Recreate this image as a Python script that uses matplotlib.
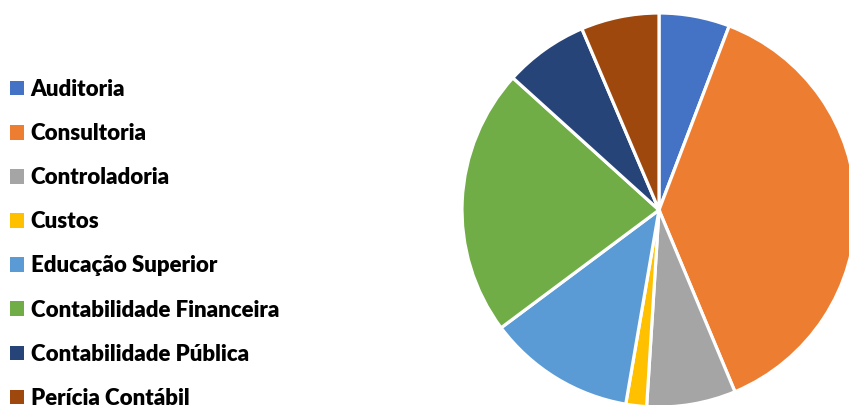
import matplotlib
matplotlib.use("Agg")
import matplotlib.pyplot as plt
from matplotlib.patches import Patch

# share of each area (percent)
areas = ["Auditoria", "Consultoria", "Controladoria", "Custos",
         "Educação Superior", "Contabilidade Financeira",
         "Contabilidade Pública", "Perícia Contábil"]
shares = [5.8, 37.9, 7.3, 1.7, 12.1, 21.9, 6.9, 6.4]
colors = ["#4472C4", "#ED7D31", "#A5A5A5", "#FFC000",
          "#5B9BD5", "#70AD47", "#264478", "#9E480E"]

fig = plt.figure(figsize=(8.49, 4.05), dpi=100)
W, H = 849, 405
cx, cy, r = 659, 210, 197
ax = fig.add_axes([(cx - r) / W, (H - cy - r) / H, 2 * r / W, 2 * r / H])

ax.pie(shares, colors=colors, startangle=90, counterclock=False,
       wedgeprops=dict(edgecolor="white", linewidth=2.3))
ax.set_xlim(-1, 1)
ax.set_ylim(-1, 1)
ax.set_aspect("equal")

handles = [Patch(facecolor=c, edgecolor="none") for c in colors]
leg = fig.legend(handles, areas, loc="upper left",
                 bbox_to_anchor=(10 / W, 1 - 79 / H),
                 frameon=False, prop=dict(family="Lato", weight="heavy", size=16),
                 handlelength=0.63, handleheight=0.63, handletextpad=0.3,
                 labelspacing=1.04, borderpad=0, borderaxespad=0)

fig.savefig("out.png", dpi=100)
